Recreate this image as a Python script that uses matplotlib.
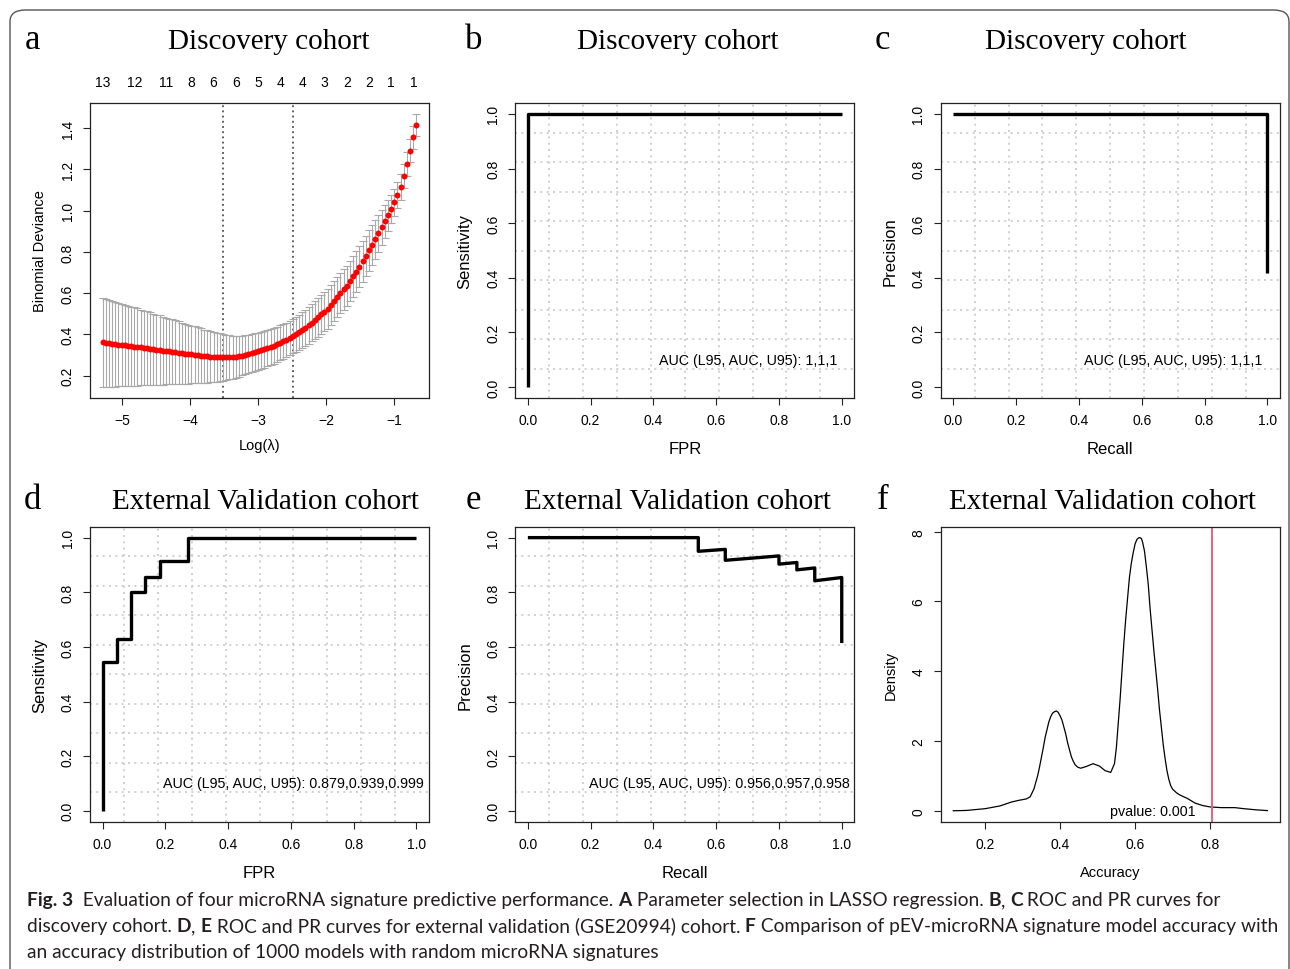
import numpy as np
import matplotlib
matplotlib.use('Agg')
import matplotlib.pyplot as plt
from matplotlib.patches import FancyBboxPatch

# ---- data ----

# a: LASSO cross-validation, 100 lambdas (log scale)
log_lambda = np.linspace(-5.285, -0.677, 100)
cv_mean = [0.362, 0.360, 0.357, 0.355, 0.353, 0.351, 0.349, 0.347, 0.345, 0.343,
           0.341, 0.339, 0.337, 0.335, 0.333, 0.331, 0.328, 0.326, 0.324, 0.322,
           0.320, 0.318, 0.316, 0.314, 0.312, 0.310, 0.307, 0.305, 0.303, 0.301,
           0.299, 0.297, 0.295, 0.294, 0.292, 0.291, 0.290, 0.289, 0.289, 0.289,
           0.289, 0.290, 0.292, 0.294, 0.298, 0.302, 0.306, 0.310, 0.314, 0.318,
           0.323, 0.328, 0.333, 0.339, 0.345, 0.352, 0.359, 0.366, 0.374, 0.383,
           0.392, 0.401, 0.411, 0.422, 0.433, 0.445, 0.457, 0.470, 0.483, 0.497,
           0.511, 0.525, 0.543, 0.561, 0.580, 0.599, 0.618, 0.636, 0.658, 0.681,
           0.705, 0.729, 0.754, 0.780, 0.807, 0.834, 0.862, 0.890, 0.919, 0.948,
           0.978, 1.008, 1.041, 1.076, 1.115, 1.168, 1.226, 1.290, 1.355, 1.416]
cv_se = [0.217, 0.214, 0.212, 0.209, 0.206, 0.203, 0.201, 0.198, 0.195, 0.192,
         0.190, 0.187, 0.184, 0.181, 0.179, 0.176, 0.173, 0.170, 0.168, 0.165,
         0.162, 0.159, 0.157, 0.154, 0.151, 0.148, 0.146, 0.143, 0.140, 0.138,
         0.135, 0.132, 0.129, 0.127, 0.124, 0.121, 0.118, 0.116, 0.113, 0.110,
         0.107, 0.104, 0.101, 0.098, 0.096, 0.094, 0.093, 0.092, 0.091, 0.090,
         0.090, 0.089, 0.088, 0.088, 0.087, 0.086, 0.085, 0.085, 0.084, 0.083,
         0.083, 0.084, 0.085, 0.086, 0.087, 0.089, 0.090, 0.092, 0.093, 0.095,
         0.096, 0.097, 0.097, 0.097, 0.097, 0.097, 0.097, 0.098, 0.098, 0.099,
         0.099, 0.100, 0.100, 0.099, 0.098, 0.097, 0.095, 0.090, 0.085, 0.080,
         0.075, 0.070, 0.066, 0.064, 0.062, 0.060, 0.058, 0.056, 0.055, 0.053]
nz_pos = [-5.279, -4.809, -4.354, -3.982, -3.655, -3.326, -3.003, -2.675,
          -2.352, -2.025, -1.696, -1.373, -1.050, -0.722]
nz_labels = ['13', '12', '11', '8', '6', '6', '5', '4', '4', '3', '2', '2', '1', '1']
lambda_min = -3.513
lambda_1se = -2.489

# b: ROC discovery
fpr_b = [0.0, 0.0, 1.0]
tpr_b = [0.0, 1.0, 1.0]
# c: PR discovery
rec_c = [0.0, 1.0, 1.0]
prec_c = [1.0, 1.0, 0.417]
# d: ROC external validation
fpr_d = [0.0, 0.0, 0.045, 0.045, 0.091, 0.091, 0.136, 0.136, 0.182, 0.182, 0.273, 0.273, 1.0]
tpr_d = [0.0, 0.543, 0.543, 0.629, 0.629, 0.8, 0.8, 0.857, 0.857, 0.914, 0.914, 1.0, 1.0]
# e: PR external validation
rec_e = [0.0, 0.543, 0.543, 0.629, 0.629, 0.8, 0.8, 0.857, 0.857, 0.914, 0.914, 1.0, 1.0]
prec_e = [1.0, 1.0, 0.95, 0.957, 0.917, 0.933, 0.903, 0.909, 0.882, 0.889, 0.842, 0.854, 0.614]
# f: accuracy density of random signatures
acc_x = [0.115, 0.15, 0.2, 0.24, 0.27, 0.29, 0.30, 0.31, 0.32, 0.33, 0.34, 0.345,
         0.355, 0.36, 0.37, 0.375, 0.38, 0.385, 0.39, 0.395, 0.40, 0.405, 0.41,
         0.415, 0.42, 0.425, 0.43, 0.435, 0.44, 0.447, 0.455, 0.47, 0.488, 0.505,
         0.52, 0.535, 0.545, 0.55, 0.555, 0.56, 0.565, 0.57, 0.575, 0.58, 0.585,
         0.59, 0.595, 0.60, 0.605, 0.609, 0.613, 0.617, 0.62, 0.625, 0.63, 0.635,
         0.64, 0.645, 0.65, 0.655, 0.66, 0.665, 0.67, 0.675, 0.68, 0.685, 0.69,
         0.695, 0.70, 0.71, 0.72, 0.74, 0.76, 0.78, 0.80, 0.83, 0.866, 0.89,
         0.92, 0.953]
acc_dens = [0.0, 0.01, 0.06, 0.14, 0.25, 0.30, 0.32, 0.34, 0.40, 0.62, 1.0, 1.25,
            1.8, 2.1, 2.55, 2.7, 2.8, 2.84, 2.86, 2.82, 2.72, 2.6, 2.4,
            2.2, 1.95, 1.75, 1.55, 1.42, 1.32, 1.25, 1.22, 1.27, 1.35, 1.28,
            1.15, 1.1, 1.35, 1.8, 2.5, 3.2, 4.0, 4.8, 5.5, 6.1, 6.7,
            7.1, 7.4, 7.65, 7.78, 7.82, 7.83, 7.8, 7.7, 7.45, 7.0, 6.5,
            5.8, 5.2, 4.6, 4.05, 3.5, 2.9, 2.4, 1.9, 1.5, 1.15, 0.9,
            0.72, 0.62, 0.52, 0.45, 0.35, 0.22, 0.15, 0.11, 0.09, 0.09, 0.06,
            0.03, 0.005]
observed_acc = 0.806

auc_b = 'AUC (L95, AUC, U95): 1,1,1'
auc_c = 'AUC (L95, AUC, U95): 1,1,1'
auc_d = 'AUC (L95, AUC, U95): 0.879,0.939,0.999'
auc_e = 'AUC (L95, AUC, U95): 0.956,0.957,0.958'
pval_f = 'pvalue: 0.001'

caption_lines = [
    [('Fig. 3', True), ('  Evaluation of four microRNA signature predictive performance. ', False),
     ('A', True), (' Parameter selection in LASSO regression. ', False), ('B', True),
     (', ', False), ('C', True), (' ROC and PR curves for', False)],
    [('discovery cohort. ', False), ('D', True), (', ', False), ('E', True),
     (' ROC and PR curves for external validation (GSE20994) cohort. ', False),
     ('F', True), (' Comparison of pEV-microRNA signature model accuracy with', False)],
    [('an accuracy distribution of 1000 models with random microRNA signatures', False)],
]

# ---- figure ----
W, H = 1290, 970
plt.rcParams['font.family'] = ['Liberation Sans', 'DejaVu Sans']
fig = plt.figure(figsize=(W / 100, H / 100), dpi=100)
SERIF = ['Liberation Serif', 'DejaVu Serif']


def rect(x0, y0, x1, y1):
    return [x0 / W, 1 - y1 / H, (x1 - x0) / W, (y1 - y0) / H]


def r_style(ax):
    for s in ax.spines.values():
        s.set_color('#222222')
        s.set_linewidth(0.9)
    ax.tick_params(direction='out', length=5, width=0.8, color='#222222',
                   labelsize=10, pad=6)
    ax.tick_params(axis='y', labelrotation=90)
    for t in ax.get_yticklabels():
        t.set_va('center')


def r_lims(ax, xs, ys):
    lo, hi = min(xs), max(xs)
    ax.set_xlim(lo - 0.04 * (hi - lo), hi + 0.04 * (hi - lo))
    lo, hi = min(ys), max(ys)
    ax.set_ylim(lo - 0.04 * (hi - lo), hi + 0.04 * (hi - lo))


def r_grid(ax):
    for g in np.linspace(-0.04, 1.04, 11)[1:-1]:
        ax.axvline(g, color='#c8c8c8', lw=1.2, ls=(0, (1.2, 2.6)), zorder=0)
        ax.axhline(g, color='#c8c8c8', lw=1.2, ls=(0, (1.2, 2.6)), zorder=0)


def curve_panel(ax, xs, ys, xlabel, ylabel, txt, txt_x):
    ax.set_xlim(-0.04, 1.04)
    ax.set_ylim(-0.04, 1.04)
    r_grid(ax)
    ax.plot(xs, ys, color='black', lw=2.4, solid_capstyle='butt', zorder=3)
    ticks = [0.0, 0.2, 0.4, 0.6, 0.8, 1.0]
    ax.set_xticks(ticks)
    ax.set_yticks(ticks)
    ax.set_xticklabels(['%.1f' % t for t in ticks])
    ax.set_yticklabels(['%.1f' % t for t in ticks])
    ax.set_xlabel(xlabel, fontsize=12, labelpad=10)
    ax.set_ylabel(ylabel, fontsize=12, labelpad=10)
    ax.text(txt_x, 0.1, txt, ha='right', va='center', fontsize=10.3)
    r_style(ax)


def panel_head(letter, lx, title, tx, base_y):
    fig.text(lx / W, 1 - base_y / H, letter, family=SERIF, fontsize=25,
             ha='center', va='baseline')
    fig.text(tx / W, 1 - base_y / H, title, family=SERIF, fontsize=21,
             ha='center', va='baseline')


# a
ax = fig.add_axes(rect(90, 104, 429, 399))
lower = [m - s for m, s in zip(cv_mean, cv_se)]
upper = [m + s for m, s in zip(cv_mean, cv_se)]
r_lims(ax, log_lambda, lower + upper)
ax.errorbar(log_lambda, cv_mean, yerr=cv_se, fmt='none', ecolor='#a9a9a9',
            elinewidth=0.8, capsize=3, capthick=0.8, zorder=2)
ax.plot(log_lambda, cv_mean, 'o', color='red', ms=4.3, mec='none', zorder=3)
for v in (lambda_min, lambda_1se):
    ax.axvline(v, color='#333333', lw=1.1, ls=(0, (1.2, 2.2)), zorder=1)
ax.set_xticks([-5, -4, -3, -2, -1])
ax.set_yticks([0.2, 0.4, 0.6, 0.8, 1.0, 1.2, 1.4])
ax.set_yticklabels(['0.2', '0.4', '0.6', '0.8', '1.0', '1.2', '1.4'])
ax.set_xlabel('Log(λ)', fontsize=10.5, labelpad=8)
ax.set_ylabel('Binomial Deviance', fontsize=10.5, labelpad=10)
r_style(ax)
top = ax.secondary_xaxis('top')
top.set_xticks(nz_pos)
top.set_xticklabels(nz_labels)
top.tick_params(length=0, pad=10, labelsize=10)
top.spines['top'].set_visible(False)
panel_head('a', 32, 'Discovery cohort', 268.8, 49)

# b
ax = fig.add_axes(rect(515.3, 104, 854.3, 399))
curve_panel(ax, fpr_b, tpr_b, 'FPR', 'Sensitivity', auc_b, 0.987)
panel_head('b', 474, 'Discovery cohort', 677.5, 49)

# c
ax = fig.add_axes(rect(940.7, 104, 1280, 399))
curve_panel(ax, rec_c, prec_c, 'Recall', 'Precision', auc_c, 0.985)
panel_head('c', 882.5, 'Discovery cohort', 1085.8, 49)

# d
ax = fig.add_axes(rect(90, 527.7, 429, 822.7))
curve_panel(ax, fpr_d, tpr_d, 'FPR', 'Sensitivity', auc_d, 1.024)
panel_head('d', 32.5, 'External Validation cohort', 265.8, 509)

# e
ax = fig.add_axes(rect(515.3, 527.7, 854.3, 822.7))
curve_panel(ax, rec_e, prec_e, 'Recall', 'Precision', auc_e, 1.024)
panel_head('e', 473.3, 'External Validation cohort', 677.5, 509)

# f
ax = fig.add_axes(rect(940.7, 527.7, 1280, 822.7))
r_lims(ax, acc_x, [0.0] + acc_dens)
ax.plot(acc_x, acc_dens, color='black', lw=0.9)
ax.axvline(observed_acc, color='#e0667c', lw=1.4)
ax.text(0.647, 0.0, pval_f, ha='center', va='center', fontsize=10.3)
ax.set_xticks([0.2, 0.4, 0.6, 0.8])
ax.set_yticks([0, 2, 4, 6, 8])
ax.set_xlabel('Accuracy', fontsize=10.5, labelpad=10)
ax.set_ylabel('Density', fontsize=10.5, labelpad=10)
r_style(ax)
panel_head('f', 882.5, 'External Validation cohort', 1102.5, 509)

# rounded frame
fig.patches.append(FancyBboxPatch((10 / W, -20 / H), 1279 / W, (H - 11 + 20) / H,
                                  boxstyle='round,pad=0,rounding_size=0.012',
                                  transform=fig.transFigure, fill=False,
                                  ec='#555555', lw=1.0))

# caption, mixed bold/regular runs
CAP_FONT = ['Lato', 'DejaVu Sans']
renderer = fig.canvas.get_renderer()


def run_width(s, bold, size):
    w = []
    for txt in ('|' + s + '|', '||'):
        t = fig.text(0, 0, txt, fontsize=size, family=CAP_FONT,
                     fontweight='bold' if bold else 'normal')
        w.append(t.get_window_extent(renderer).width)
        t.remove()
    return w[0] - w[1]


size = 12
line2_w = sum(run_width(s, b, size) for s, b in caption_lines[1])
size = size * 1248 / line2_w
for line, base in zip(caption_lines, (906, 932, 958)):
    x = 27
    for s, b in line:
        fig.text(x / W, 1 - base / H, s, fontsize=size, family=CAP_FONT,
                 fontweight='bold' if b else 'normal', color='#231f20',
                 va='baseline', ha='left')
        x += run_width(s, b, size)

fig.savefig('out.png', dpi=100)
